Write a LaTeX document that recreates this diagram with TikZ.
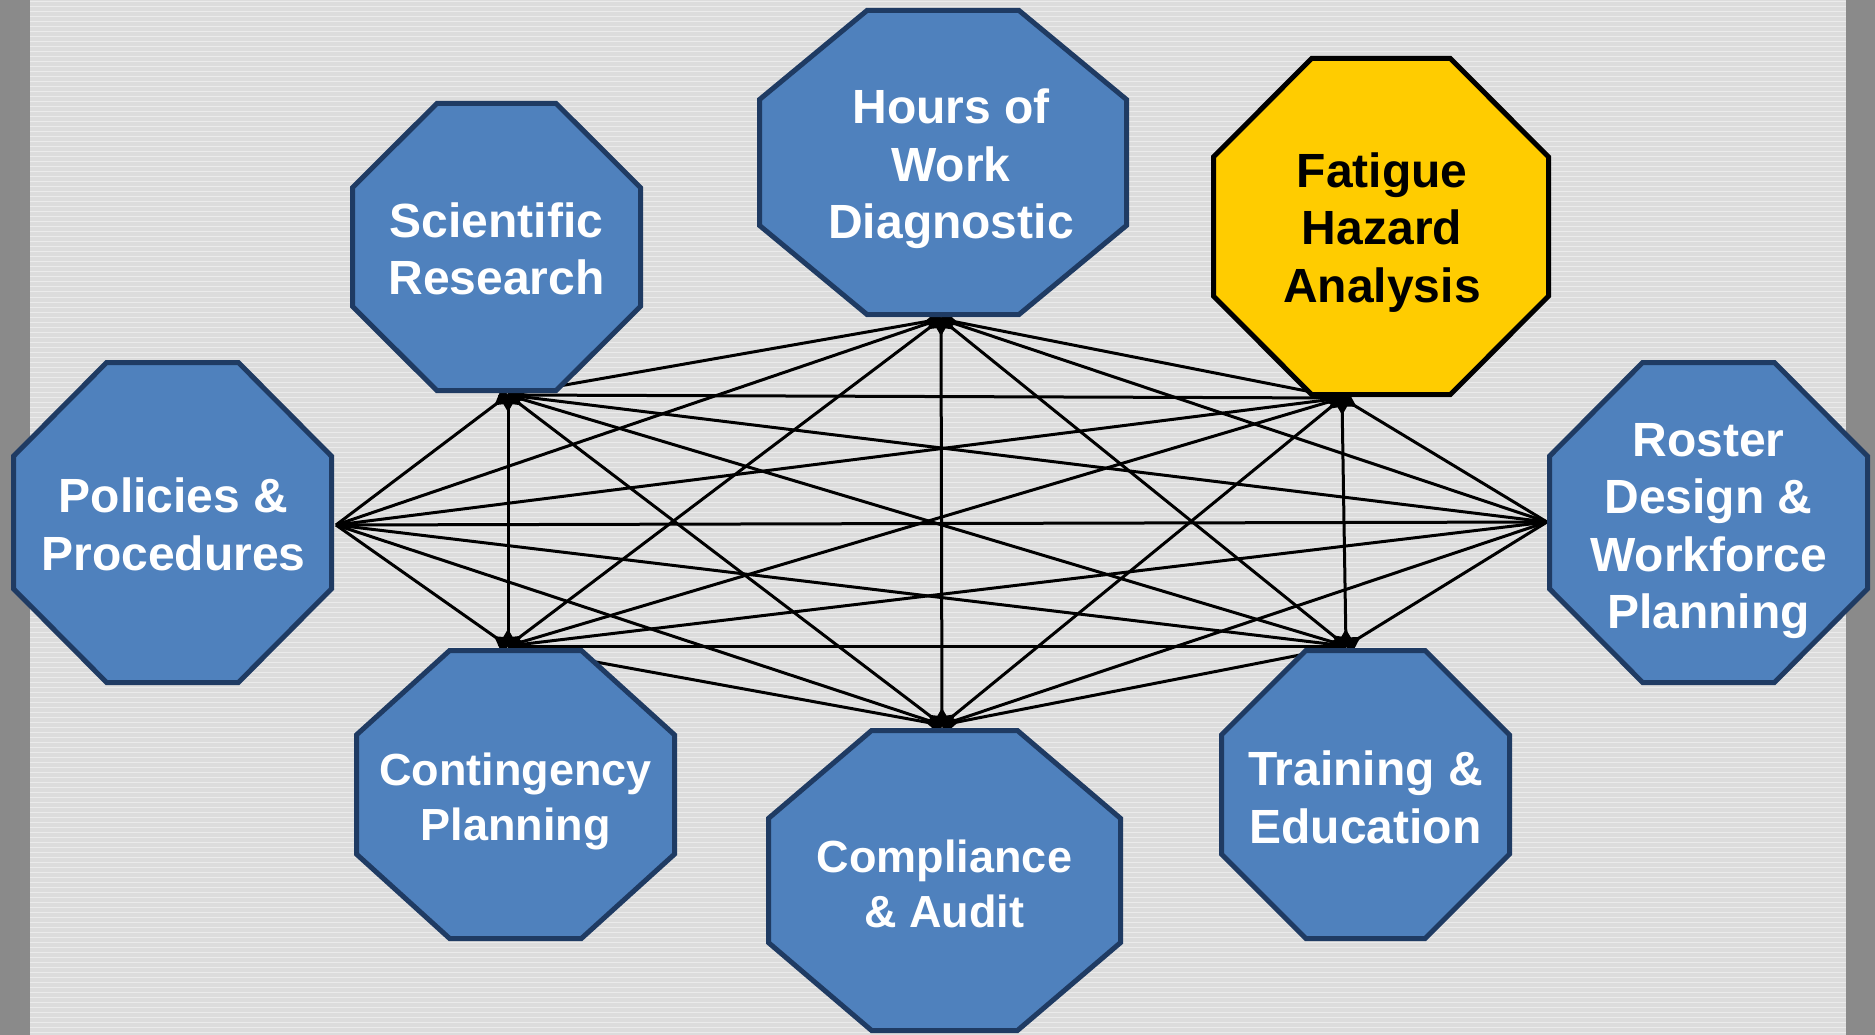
\documentclass[tikz,border=0pt]{standalone}
\usepackage{fontspec}
\setmainfont{Liberation Sans}
\usetikzlibrary{calc}
\pgfdeclarelayer{bg}
\pgfdeclarelayer{mid}
\pgfsetlayers{bg,mid,main}
\definecolor{octfill}{HTML}{4F81BD}
\definecolor{octline}{HTML}{1F3B63}
\definecolor{fhafill}{HTML}{FFCC00}
\definecolor{paper}{HTML}{DCDCDC}
\definecolor{strip}{HTML}{8A8A8A}
\newcommand\octpath[2]{%
  \path[#2] ($(#1.north west)!0.2929!(#1.north east)$) -- ($(#1.north west)!0.7071!(#1.north east)$)
   -- ($(#1.north east)!0.2929!(#1.south east)$) -- ($(#1.north east)!0.7071!(#1.south east)$)
   -- ($(#1.south east)!0.2929!(#1.south west)$) -- ($(#1.south east)!0.7071!(#1.south west)$)
   -- ($(#1.south west)!0.2929!(#1.north west)$) -- ($(#1.south west)!0.7071!(#1.north west)$) -- cycle;}
% arrowhead at end #1 of the connector from #2: base on the node edge, apex along the line
\newcommand\rhead[2]{\fill[black] ($(#1)!10pt!90:(#2)$) -- ($(#1)!10pt!-90:(#2)$) -- ($(#1)!17pt!(#2)$) -- cycle;}
\begin{document}
\begin{tikzpicture}[x=1pt,y=-1pt,
  box/.style={inner sep=0pt, outer sep=0pt},
  txt/.style={inner sep=0pt, outer sep=0pt, align=center,
    font=\fontsize{48}{57.5}\selectfont\bfseries, text=white},
  txts/.style={txt, font=\fontsize{45}{55}\selectfont\bfseries},
  octb/.style={fill=octfill, draw=octline, line width=5pt, line join=miter},
  octy/.style={fill=fhafill, draw=black, line width=5pt, line join=miter},
  conn/.style={draw=black, line width=3pt}]
\useasboundingbox (0,0) rectangle (1875,1035);
% octagon boxes
\node[box, minimum width=288pt, minimum height=287pt] (sr) at (496.5,247) {};
\node[box, minimum width=367pt, minimum height=304pt] (hw) at (943,162.5) {};
\node[box, minimum width=335pt, minimum height=336pt] (fha) at (1381,226.5) {};
\node[box, minimum width=318pt, minimum height=320pt] (pp) at (172.5,522.5) {};
\node[box, minimum width=318pt, minimum height=320pt] (rd) at (1708.5,522.5) {};
\node[box, minimum width=318pt, minimum height=288pt] (cp) at (515.5,794.5) {};
\node[box, minimum width=352pt, minimum height=300pt] (ca) at (944.5,880.5) {};
\node[box, minimum width=288pt, minimum height=288pt] (te) at (1365.5,794.5) {};
% labels
\node[txt] (srt) at ($(sr.center)+(0,2)$) {Scientific\\Research};
\node[txt] (hwt) at ($(hw.center)+(8,6.5)$) {Hours of\\Work\\Diagnostic};
\node[txt, text=black] (fhat) at ($(fha.center)+(1,6)$) {Fatigue\\Hazard\\Analysis};
\node[txt] (ppt) at ($(pp.center)+(1,2)$) {Policies \&\\Procedures};
\node[txt] (rdt) at ($(rd.center)+(0,8.5)$) {Roster\\Design \&\\Workforce\\Planning};
\node[txts] (cpt) at ($(cp.center)+(0,6.5)$) {Contingency\\Planning};
\node[txts] (cat) at ($(ca.center)+(0,3.5)$) {Compliance\\\& Audit};
\node[txt] (tet) at ($(te.center)+(0,3)$) {Training \&\\Education};
% connection points
\coordinate (srB) at (508,395);
\coordinate (hwB) at (941,319);
\coordinate (fhaB) at (1342,398);
\coordinate (ppR) at (336,525);
\coordinate (rdL) at (1547,522);
\coordinate (cpT) at (508,646);
\coordinate (caT) at (942,725);
\coordinate (teT) at (1346,646);
\begin{pgfonlayer}{bg}
  \fill[paper] (0,0) rectangle (1875,1035);
  \foreach \yy in {2,7,...,1035} \draw[white, opacity=0.45, line width=1pt] (30,\yy) -- (1846,\yy);
  \fill[strip] (0,0) rectangle (30,1035);
  \fill[strip] (1846,0) rectangle (1875,1035);
  % connectors from Policies and Roster
  \foreach \t in {srB,hwB,fhaB,cpT,caT,teT} {
    \draw[conn] (ppR) -- (\t);
    \draw[conn] (rdL) -- (\t);
    \rhead{\t}{ppR}
    \rhead{\t}{rdL}
  }
  \draw[conn] (ppR) -- (rdL);
  % connectors among the others
  \foreach \a/\b in {srB/hwB,srB/fhaB,srB/cpT,srB/caT,srB/teT,hwB/fhaB,hwB/cpT,hwB/caT,hwB/teT,fhaB/cpT,fhaB/caT,fhaB/teT,cpT/caT,cpT/teT,caT/teT} {
    \draw[conn] (\a) -- (\b);
    \rhead{\a}{\b}
    \rhead{\b}{\a}
  }
\end{pgfonlayer}
\begin{pgfonlayer}{mid}
  \octpath{sr}{octb}
  \octpath{hw}{octb}
  \octpath{fha}{octy}
  \octpath{pp}{octb}
  \octpath{rd}{octb}
  \octpath{cp}{octb}
  \octpath{ca}{octb}
  \octpath{te}{octb}
\end{pgfonlayer}
\end{tikzpicture}
\end{document}
